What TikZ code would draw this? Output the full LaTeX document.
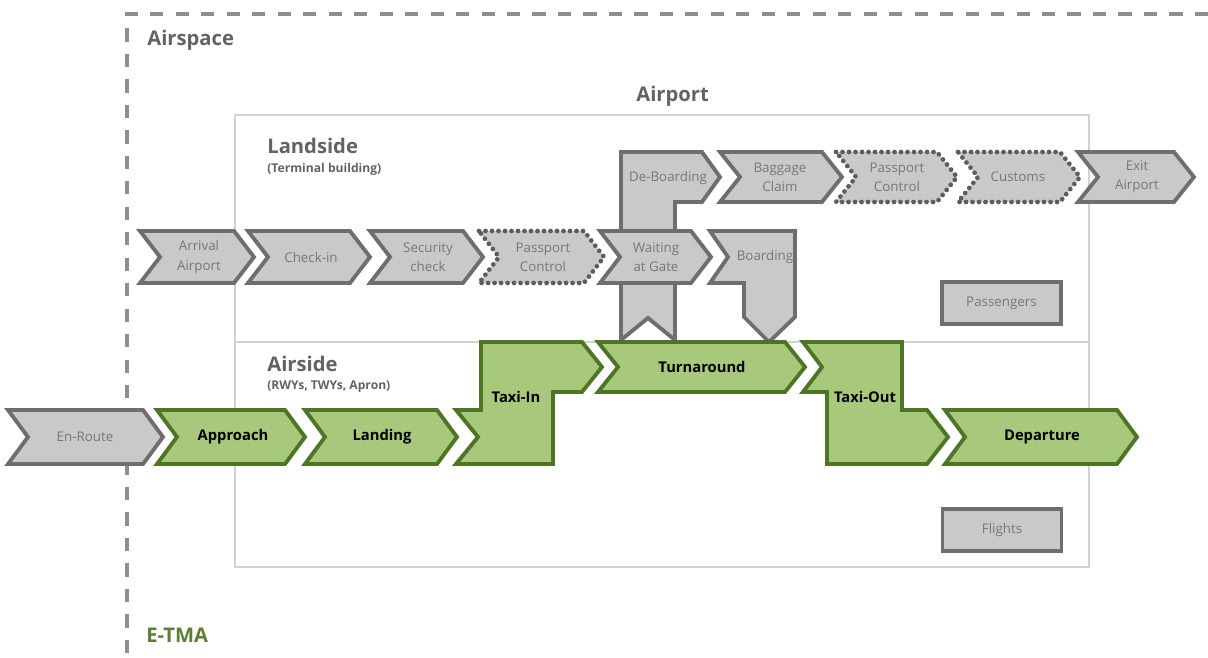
\documentclass[tikz,border=0pt]{standalone}
\usepackage{fontspec}
\setmainfont{Open Sans}
\usepackage{xcolor}
\usepackage{tikz}
\usetikzlibrary{positioning}
\definecolor{boxgray}{HTML}{C9C9C9}
\definecolor{edgegray}{HTML}{6E6E6E}
\definecolor{textgray}{HTML}{777777}
\definecolor{headgray}{HTML}{636363}
\definecolor{framegray}{HTML}{D2D2D2}
\definecolor{dashgray}{HTML}{8E8E8E}
\definecolor{lightgreen}{HTML}{A8C87B}
\definecolor{darkgreen}{HTML}{4C7526}
\definecolor{tmagreen}{HTML}{5B8034}
\tikzstyle{graystep} = [draw=edgegray, fill=boxgray, line width=2.2pt]
\tikzstyle{dotstep} = [draw=edgegray!85!black, fill=boxgray, line width=2.7pt,
    dash pattern=on 0pt off 3.7pt, line cap=round]
\tikzstyle{greenstep} = [draw=darkgreen, fill=lightgreen, line width=2.2pt]
\tikzstyle{steptext} = [text=textgray, align=center,
    font=\fontsize{7.6}{11}\selectfont]
\tikzstyle{flighttext} = [text=black, font=\fontsize{8.4}{10}\selectfont\bfseries]
\tikzstyle{legendbox} = [draw=edgegray, fill=boxgray, line width=2.2pt,
    minimum width=2.38cm, minimum height=0.84cm, text=textgray,
    font=\fontsize{7.6}{10}\selectfont]
\tikzstyle{heading} = [text=headgray, anchor=west, inner sep=0pt,
    font=\fontsize{11.5}{13}\selectfont\bfseries]
\tikzstyle{subheading} = [text=headgray, anchor=west, inner sep=0pt,
    font=\fontsize{6.9}{8}\selectfont\bfseries]
% chevron: style, left x, tip x, top y, bottom y
\newcommand{\chevron}[5]{%
  \draw[#1] (#2,#4) -- (#3-20,#4) -- (#3,{(#4+#5)/2}) -- (#3-20,#5)
    -- (#2,#5) -- (#2+20,{(#4+#5)/2}) -- cycle;}

\begin{document}
\begin{tikzpicture}[x=0.02cm, y=-0.02cm]
        \useasboundingbox (0,0) rectangle (1208,658);
        % Airspace and airport frames
        \draw[dashgray, line width=1.9pt, dash pattern=on 7.5pt off 7pt]
            (1208,14) -- (127,14) -- (127,658);
        \draw[framegray, line width=1.3pt] (235,115) rectangle (1089,567);
        \draw[framegray, line width=1.3pt] (235,342) -- (1089,342);
        % Landside steps
        \draw[graystep] (621,152) -- (702,152) -- (720,177) -- (702,202)
            -- (675,202) -- (675,340) -- (648,318) -- (621,340) -- cycle;
        \chevron{graystep}{140}{254}{231}{283}
        \chevron{graystep}{248}{370}{231}{283}
        \chevron{graystep}{370}{483}{231}{283}
        \chevron{dotstep}{479}{604}{231}{283}
        \chevron{graystep}{600}{711}{231}{283}
        \draw[graystep] (710,231) -- (795,231) -- (795,317) -- (769,342)
            -- (744,317) -- (744,283) -- (710,283) -- (728,257) -- cycle;
        \chevron{graystep}{720}{842}{152}{202}
        \chevron{dotstep}{836}{957}{152}{202}
        \chevron{dotstep}{958}{1080}{152}{202}
        \chevron{graystep}{1078}{1194}{152}{202}
        % Airside steps
        \chevron{graystep}{8}{163}{410}{464}
        \chevron{greenstep}{157}{305}{410}{464}
        \chevron{greenstep}{305}{457}{410}{464}
        \draw[greenstep] (481,342) -- (582,342) -- (602,367) -- (582,392)
            -- (553,392) -- (553,464) -- (456,464) -- (478,437) -- (456,410)
            -- (481,410) -- cycle;
        \chevron{greenstep}{598}{805}{342}{392}
        \draw[greenstep] (803,342) -- (902,342) -- (902,410) -- (927,410)
            -- (948,437) -- (927,464) -- (827,464) -- (827,392) -- (803,392)
            -- (822,367) -- cycle;
        \chevron{greenstep}{945}{1137}{410}{464}
        % Place nodes
        \node[heading] (airspace) at (147,40) {Airspace};
        \node[heading] (airport) at (636,96) {Airport};
        \node[heading] (landside) at (267,146) {Landside};
        \node[subheading, below=5pt of landside.south west, anchor=north west] (terminal) {(Terminal building)};
        \node[heading] (airside) at (267,364) {Airside};
        \node[subheading, below=5pt of airside.south west, anchor=north west] (rwys) {(RWYs, TWYs, Apron)};
        \node[heading, text=tmagreen] (etma) at (146,635) {E-TMA};
        \node[steptext] (arrival) at (199,257) {Arrival\\Airport};
        \node[steptext] (checkin) at (311,257) {Check-in};
        \node[steptext] (security) at (428,257) {Security\\check};
        \node[steptext] (passport) at (543,257) {Passport\\Control};
        \node[steptext] (waiting) at (656,257) {Waiting\\at Gate};
        \node[steptext] (boarding) at (765,257) {Boarding};
        \node[steptext] (deboarding) at (668,178) {De-Boarding};
        \node[steptext] (baggage) at (780,177) {Baggage\\Claim};
        \node[steptext] (passport2) at (897,177) {Passport\\Control};
        \node[steptext] (customs) at (1018,177) {Customs};
        \node[steptext] (exit) at (1137,177) {Exit\\Airport};
        \node[steptext] (enroute) at (85,437) {En-Route};
        \node[flighttext] (approach) at (233,437) {Approach};
        \node[flighttext] (landing) at (382,437) {Landing};
        \node[flighttext] (taxiin) at (516,397) {Taxi-In};
        \node[flighttext] (turnaround) at (702,367) {Turnaround};
        \node[flighttext] (taxiout) at (865,397) {Taxi-Out};
        \node[flighttext] (departure) at (1042,437) {Departure};
        \node[legendbox] (passengers) at (1001.5,303) {Passengers};
        \node[legendbox] (flights) at (1002,530) {Flights};
      \end{tikzpicture}
\end{document}
